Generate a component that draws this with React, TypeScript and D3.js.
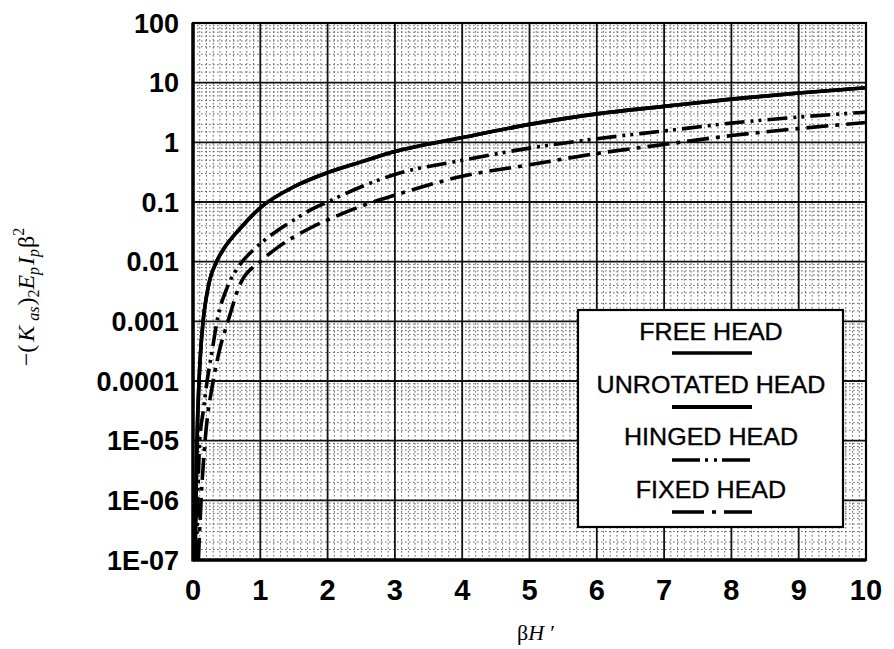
import React from "react";
import * as d3 from "d3";

// Axis ticks
const xTickValues = [0, 1, 2, 3, 4, 5, 6, 7, 8, 9, 10];
const yTickValues = [1e2, 1e1, 1, 1e-1, 1e-2, 1e-3, 1e-4, 1e-5, 1e-6, 1e-7];
const yTickLabels = ["100", "10", "1", "0.1", "0.01", "0.001", "0.0001", "1E-05", "1E-06", "1E-07"];

// Series: βH' against -(Kas)2 Ep Ip β²
const freeHeadX = [0.03, 0.045, 0.06, 0.09, 0.15, 0.2, 0.25, 0.35, 0.45, 0.7, 1, 1.5, 2, 2.5, 3, 4, 5, 6, 7, 8, 9, 10];
const freeHeadY = [1e-7, 1e-6, 1e-5, 1e-4, 1e-3, 2.6e-3, 5e-3, 0.01, 0.016, 0.036, 0.08, 0.18, 0.31, 0.47, 0.7, 1.2, 2.0, 3.0, 4.0, 5.3, 6.7, 8.2];

const unrotatedHeadX = [0.03, 0.045, 0.06, 0.09, 0.15, 0.2, 0.25, 0.35, 0.45, 0.7, 1, 1.5, 2, 2.5, 3, 4, 5, 6, 7, 8, 9, 10];
const unrotatedHeadY = [1e-7, 1e-6, 1e-5, 1e-4, 1e-3, 2.6e-3, 5e-3, 0.01, 0.016, 0.036, 0.08, 0.18, 0.31, 0.47, 0.7, 1.2, 2.0, 3.0, 4.0, 5.3, 6.7, 8.2];

const hingedHeadX = [0.05, 0.07, 0.1, 0.15, 0.21, 0.28, 0.37, 0.5, 0.7, 0.85, 1, 1.25, 1.5, 1.75, 2, 2.5, 3, 4, 5, 6, 7, 8, 9, 10];
const hingedHeadY = [1e-7, 1e-6, 1e-5, 3e-5, 1e-4, 3e-4, 1.2e-3, 3.5e-3, 0.009, 0.014, 0.02, 0.033, 0.05, 0.074, 0.1, 0.18, 0.29, 0.5, 0.8, 1.15, 1.55, 2.1, 2.65, 3.2];

const fixedHeadX = [0.08, 0.12, 0.18, 0.3, 0.4, 0.52, 0.7, 1, 1.25, 1.5, 1.75, 2, 2.5, 3, 4, 5, 6, 7, 8, 9, 10];
const fixedHeadY = [1e-7, 1e-6, 1e-5, 1e-4, 3.5e-4, 1e-3, 4.2e-3, 0.01, 0.017, 0.026, 0.037, 0.05, 0.085, 0.13, 0.27, 0.42, 0.65, 0.92, 1.3, 1.7, 2.15];

const legendLabels = ["FREE HEAD", "UNROTATED HEAD", "HINGED HEAD", "FIXED HEAD"];

const W = 894;
const H = 649;
const plot = { left: 193, right: 866, top: 23, bottom: 560 };

const x = d3.scaleLinear().domain([0, 10]).range([plot.left, plot.right]);
const y = d3.scaleLog().domain([1e-7, 1e2]).range([plot.bottom, plot.top]);

const seriesStyles = [
  { dash: "none", width: 3.6 },
  { dash: "none", width: 3.6 },
  { dash: "20,6,3,5,3,6", width: 3.6 },
  { dash: "22,7,4,7", width: 3.6 },
];

const seriesData: [number[], number[]][] = [
  [freeHeadX, freeHeadY],
  [unrotatedHeadX, unrotatedHeadY],
  [hingedHeadX, hingedHeadY],
  [fixedHeadX, fixedHeadY],
];

const lineGen = d3
  .line<[number, number]>()
  .x((d) => x(d[0]))
  .y((d) => y(d[1]))
  .curve(d3.curveMonotoneX);

export default function App() {
  // minor grid positions
  const minorX: number[] = [];
  for (let i = 1; i < 100; i++) if (i % 10 !== 0) minorX.push(i / 10);
  const minorY: number[] = [];
  for (let e = -7; e < 2; e++) {
    for (let m = 2; m <= 9; m++) minorY.push(m * Math.pow(10, e));
    minorY.push(1.5 * Math.pow(10, e));
  }

  const sans = "'Liberation Sans', Arial, Helvetica, sans-serif";
  const serif = "'Liberation Serif', 'Times New Roman', serif";

  const legendX0 = 672;
  const legendX1 = 752;
  const legendCx = 711;
  const legendTextY = [340, 393, 445, 498];
  const legendLineY = [353, 407, 460, 512];

  return (
    <svg
      width={W}
      height={H}
      style={{ position: "absolute", left: 0, top: 0, background: "#fff" }}
      xmlns="http://www.w3.org/2000/svg"
    >
      <defs>
        <clipPath id="plotClip">
          <rect x={plot.left} y={plot.top} width={plot.right - plot.left} height={plot.bottom - plot.top} />
        </clipPath>
      </defs>
      <rect width={W} height={H} fill="#fff" />

      {/* minor grid */}
      <g stroke="#333" strokeWidth={1} strokeDasharray="1.6,2.4" opacity={0.75}>
        {minorX.map((v) => (
          <line key={"mx" + v} x1={x(v)} x2={x(v)} y1={plot.top} y2={plot.bottom} />
        ))}
        {minorY.map((v) => (
          <line key={"my" + v} x1={plot.left} x2={plot.right} y1={y(v)} y2={y(v)} />
        ))}
      </g>

      {/* major grid */}
      <g stroke="#111" strokeWidth={1.8}>
        {xTickValues.map((v) => (
          <line key={"gx" + v} x1={x(v)} x2={x(v)} y1={plot.top} y2={plot.bottom} />
        ))}
        {yTickValues.map((v) => (
          <line key={"gy" + v} x1={plot.left} x2={plot.right} y1={y(v)} y2={y(v)} />
        ))}
      </g>

      {/* frame */}
      <rect
        x={plot.left}
        y={plot.top}
        width={plot.right - plot.left}
        height={plot.bottom - plot.top}
        fill="none"
        stroke="#000"
        strokeWidth={2.2}
      />
      <line x1={plot.left} x2={plot.left} y1={plot.top} y2={plot.bottom + 1.5} stroke="#000" strokeWidth={3.5} />
      <line x1={plot.left} x2={plot.right} y1={plot.bottom} y2={plot.bottom} stroke="#000" strokeWidth={3.5} />

      {/* curves */}
      <g clipPath="url(#plotClip)" fill="none" stroke="#000" strokeLinecap="butt">
        {seriesData.map(([xs, ys], i) => (
          <path
            key={"s" + i}
            d={lineGen(xs.map((v, j) => [v, ys[j]] as [number, number])) || ""}
            strokeWidth={seriesStyles[i].width}
            strokeDasharray={seriesStyles[i].dash}
          />
        ))}
      </g>

      {/* y tick labels */}
      <g fontFamily={sans} fontWeight="bold" fontSize={27} textAnchor="end" fill="#000">
        {yTickValues.map((v, i) => (
          <text key={"yl" + i} x={179} y={y(v)} dy="0.36em">
            {yTickLabels[i]}
          </text>
        ))}
      </g>

      {/* x tick labels */}
      <g fontFamily={sans} fontWeight="bold" fontSize={29} textAnchor="middle" fill="#000">
        {xTickValues.map((v) => (
          <text key={"xl" + v} x={x(v)} y={600}>
            {String(v)}
          </text>
        ))}
      </g>

      {/* x axis title */}
      <text x={536} y={640} fontFamily={serif} fontSize={22} textAnchor="middle" fill="#000">
        β<tspan fontStyle="italic">H</tspan>
        <tspan dx={6}>′</tspan>
      </text>

      {/* y axis title */}
      <text
        transform="translate(34,297) rotate(-90)"
        fontFamily={serif}
        fontSize={24}
        textAnchor="middle"
        fill="#000"
      >
        −(<tspan fontStyle="italic" dx={3}>K</tspan>
        <tspan fontStyle="italic" fontSize={16} dy={5} dx={5}>as</tspan>
        <tspan dy={-5} dx={1}>)</tspan>
        <tspan fontSize={16} dy={5}>2</tspan>
        <tspan fontStyle="italic" dy={-5}>E</tspan>
        <tspan fontStyle="italic" fontSize={16} dy={5}>p</tspan>
        <tspan fontStyle="italic" dy={-5} dx={2}>I</tspan>
        <tspan fontStyle="italic" fontSize={16} dy={5}>p</tspan>
        <tspan dy={-5} dx={1}>β</tspan>
        <tspan fontSize={16} dy={-10}>2</tspan>
      </text>

      {/* legend */}
      <g>
        <rect x={578} y={310} width={265} height={217} fill="#fff" stroke="#000" strokeWidth={2.2} />
        {legendLabels.map((label, i) => (
          <g key={"lg" + i}>
            <text
              transform={`translate(${legendCx},${legendTextY[i]}) scale(1.09,1)`}
              fontFamily={sans}
              fontSize={23}
              textAnchor="middle"
              fill="#000"
              stroke="#000"
              strokeWidth={0.35}
            >
              {label}
            </text>
            <line
              x1={legendX0}
              x2={legendX1}
              y1={legendLineY[i]}
              y2={legendLineY[i]}
              stroke="#000"
              strokeWidth={i === 1 ? 4 : 3.4}
              strokeDasharray={i === 2 ? "28,5,3,6,3,5" : i === 3 ? "32,8,4,8" : "none"}
            />
          </g>
        ))}
      </g>
    </svg>
  );
}
